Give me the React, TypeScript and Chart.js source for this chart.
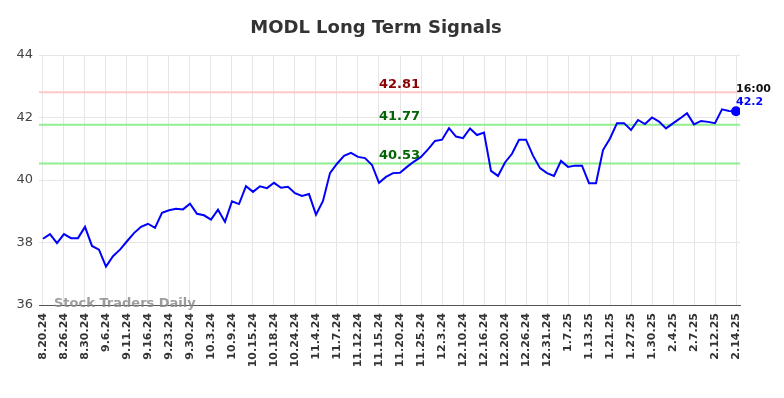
import React, { useEffect, useRef } from "react";
import { Chart, registerables } from "chart.js";

Chart.register(...registerables);

const TITLE = "MODL Long Term Signals";
const WATERMARK = "Stock Traders Daily";
const LAST_TIME = "16:00";

const tickLabels = [
  "8.20.24", "8.26.24", "8.30.24", "9.6.24", "9.11.24", "9.16.24", "9.23.24", "9.30.24",
  "10.3.24", "10.9.24", "10.15.24", "10.18.24", "10.24.24", "11.4.24", "11.7.24", "11.12.24",
  "11.15.24", "11.20.24", "11.25.24", "12.3.24", "12.10.24", "12.16.24", "12.20.24", "12.26.24",
  "12.31.24", "1.7.25", "1.13.25", "1.21.25", "1.27.25", "1.30.25", "2.4.25", "2.7.25",
  "2.12.25", "2.14.25",
];
const TICK_EVERY = 3;

const prices = [
  38.12, 38.27, 37.98, 38.27, 38.14, 38.14, 38.5, 37.89, 37.77, 37.23,
  37.56, 37.77, 38.04, 38.3, 38.5, 38.6, 38.47, 38.95, 39.03, 39.08,
  39.06, 39.24, 38.92, 38.87, 38.73, 39.05, 38.66, 39.32, 39.23, 39.8,
  39.62, 39.8, 39.74, 39.91, 39.75, 39.78, 39.58, 39.49, 39.55, 38.89,
  39.33, 40.22, 40.52, 40.77, 40.87, 40.74, 40.7, 40.48, 39.91, 40.1,
  40.22, 40.23, 40.42, 40.59, 40.74, 40.98, 41.25, 41.29, 41.66, 41.39,
  41.34, 41.65, 41.44, 41.52, 40.29, 40.13, 40.56, 40.84, 41.29, 41.29,
  40.78, 40.38, 40.22, 40.13, 40.61, 40.42, 40.46, 40.46, 39.9, 39.9,
  40.96, 41.33, 41.82, 41.82, 41.6, 41.92, 41.79, 42.0, 41.87, 41.65,
  41.81, 41.97, 42.14, 41.78, 41.89, 41.86, 41.82, 42.26, 42.21, 42.2,
];

const signalLevels = [42.81, 41.77, 40.53];
const signalLineColors = ["rgba(255,200,200,1)", "rgba(144,238,144,1)", "rgba(144,238,144,1)"];
const signalTextColors = ["#8b0000", "#006400", "#006400"];

const yTicks = [36, 38, 40, 42, 44];

const FONT = "'DejaVu Sans', sans-serif";

const overlayPlugin = {
  id: "overlay",
  beforeDatasetsDraw(chart: any) {
    const { ctx, chartArea, scales } = chart;
    const y = scales.y;
    ctx.save();
    signalLevels.forEach((lv, i) => {
      const py = y.getPixelForValue(lv);
      ctx.strokeStyle = signalLineColors[i];
      ctx.lineWidth = 2;
      ctx.beginPath();
      ctx.moveTo(chartArea.left, py);
      ctx.lineTo(chartArea.right, py);
      ctx.stroke();
    });
    ctx.restore();
  },
  afterDatasetsDraw(chart: any) {
    const { ctx, chartArea, scales } = chart;
    const x = scales.x;
    const y = scales.y;
    ctx.save();
    ctx.textBaseline = "middle";
    // signal labels
    ctx.font = `bold 13px ${FONT}`;
    ctx.textAlign = "center";
    const cx = (chartArea.left + chartArea.right) / 2 + 10;
    signalLevels.forEach((lv, i) => {
      ctx.fillStyle = signalTextColors[i];
      ctx.fillText(lv.toFixed(2), cx, y.getPixelForValue(lv) - 8);
    });
    // watermark
    ctx.font = `bold 13px ${FONT}`;
    ctx.textAlign = "left";
    ctx.fillStyle = "rgba(140,140,140,0.85)";
    ctx.fillText(WATERMARK, chartArea.left + 15, chartArea.bottom - 1);
    // last value annotation
    const last = prices.length - 1;
    const lx = x.getPixelForValue(last);
    const ly = y.getPixelForValue(prices[last]);
    ctx.font = `bold 11px ${FONT}`;
    ctx.textAlign = "left";
    ctx.fillStyle = "#111";
    ctx.fillText(LAST_TIME, lx, ly - 22);
    ctx.fillStyle = "#0000ff";
    ctx.fillText(String(prices[last]), lx, ly - 9);
    // title
    ctx.font = `bold 18px ${FONT}`;
    ctx.textAlign = "center";
    ctx.fillStyle = "#333";
    ctx.fillText(TITLE, chart.width / 2 - 16, 28);
    ctx.restore();
  },
};

export default function App() {
  const ref = useRef<HTMLCanvasElement | null>(null);
  useEffect(() => {
    document.body.style.margin = "0";
    const canvas = ref.current;
    if (!canvas) return;
    const last = prices.length - 1;
    const chart = new Chart(canvas, {
      type: "line",
      data: {
        datasets: [
          {
            data: prices.map((v, i) => ({ x: i, y: v })),
            borderColor: "#0000ff",
            backgroundColor: "#0000ff",
            borderWidth: 2,
            pointRadius: prices.map((_, i) => (i === last ? 4 : 0)),
            pointHoverRadius: 0,
            tension: 0,
            fill: false,
          },
        ],
      },
      options: {
        animation: false,
        responsive: true,
        maintainAspectRatio: false,
        layout: { padding: { top: 55, right: 44, left: 0, bottom: 0 } },
        plugins: {
          legend: { display: false },
          title: { display: false },
          tooltip: { enabled: false },
        },
        scales: {
          x: {
            type: "linear",
            min: -0.57,
            max: last + 0.57,
            afterBuildTicks: (scale: any) => {
              scale.ticks = tickLabels.map((_, i) => ({ value: i * TICK_EVERY }));
            },
            afterFit: (scale: any) => {
              scale.height = 93;
            },
            grid: { color: "#e6e6e6", lineWidth: 1, drawTicks: false },
            border: { display: true, color: "#555", width: 1 },
            ticks: {
              autoSkip: false,
              minRotation: 90,
              maxRotation: 90,
              padding: 8,
              color: "#333",
              font: { family: FONT, size: 11, weight: "bold" },
              callback: (value: any) => tickLabels[Math.round(Number(value) / TICK_EVERY)] ?? "",
            },
          },
          y: {
            type: "linear",
            min: yTicks[0],
            max: yTicks[yTicks.length - 1],
            afterBuildTicks: (scale: any) => {
              scale.ticks = yTicks.map((v) => ({ value: v }));
            },
            afterFit: (scale: any) => {
              scale.width = 39;
            },
            grid: { color: "#e6e6e6", lineWidth: 1, drawTicks: false },
            border: { display: false },
            ticks: {
              padding: 6,
              color: "#444",
              font: { family: FONT, size: 13 },
            },
          },
        },
      },
      plugins: [overlayPlugin],
    } as any);
    return () => chart.destroy();
  }, []);
  return (
    <div style={{ width: 784, height: 398, position: "relative" }}>
      <canvas ref={ref} style={{ display: "block" }} />
    </div>
  );
}
